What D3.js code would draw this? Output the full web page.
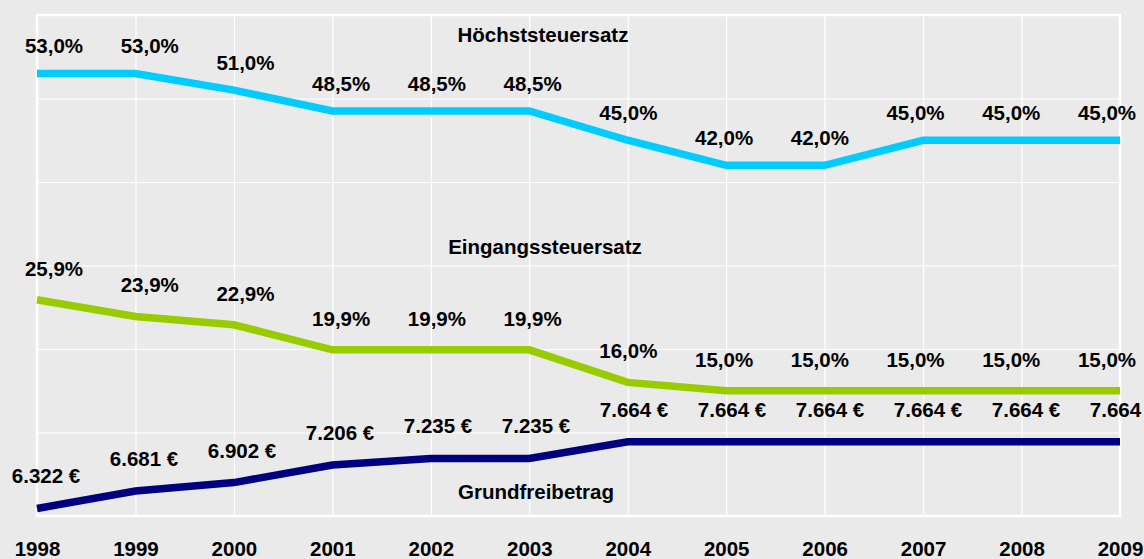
<!DOCTYPE html>
<html>
<head>
<meta charset="utf-8">
<script src="https://cdn.jsdelivr.net/npm/d3@7"></script>
<style>
  body { margin: 0; background: #eaeaea; }
  svg { display: block; font-family: "Liberation Sans", Arial, sans-serif; }
  .lbl { font-size: 20.5px; font-weight: bold; fill: #000; }
</style>
</head>
<body>
<svg width="1144" height="559"></svg>
<script>
// data
var years = ["1998", "1999", "2000", "2001", "2002", "2003", "2004", "2005", "2006", "2007", "2008", "2009"];
var hoechst = [53.0, 53.0, 51.0, 48.5, 48.5, 48.5, 45.0, 42.0, 42.0, 45.0, 45.0, 45.0];
var eingang = [25.9, 23.9, 22.9, 19.9, 19.9, 19.9, 16.0, 15.0, 15.0, 15.0, 15.0, 15.0];
var grundEuro = [6322, 6681, 6902, 7206, 7235, 7235, 7664, 7664, 7664, 7664, 7664, 7664];
// level of the Grundfreibetrag line on the chart's 0-60 axis
var grundLevel = [0.9, 3.0, 4.0, 6.1, 6.9, 6.9, 8.9, 8.9, 8.9, 8.9, 8.9, 8.9];
var seriesNames = ["Höchststeuersatz", "Eingangssteuersatz", "Grundfreibetrag"];

var svg = d3.select("svg");
var pLeft = 37, pRight = 1120, pTop = 15, pBottom = 516;

var x = d3.scalePoint().domain(years).range([pLeft, pRight]);
var y = d3.scaleLinear().domain([0, 60]).range([pBottom, pTop]);
// labels are spread a little differently from the points
var pctLabelX = d3.scalePoint().domain(years).range([54, 1107]);
var euroLabelX = d3.scalePoint().domain(years).range([46, 1124]);

var pctFmt = function(v) { return d3.format(".1f")(v).replace(".", ",") + "%"; };
var euroFmt = function(v) { return d3.format(",")(v).replace(/,/g, ".") + " €"; };

// grid
svg.append("g")
    .attr("transform", "translate(" + pLeft + ",0)")
    .call(d3.axisLeft(y).ticks(6).tickSize(-(pRight - pLeft)).tickFormat(""))
    .call(function(g) {
        g.select(".domain").remove();
        g.selectAll("line").attr("stroke", "#fff").attr("stroke-width", 1.2);
    });
svg.append("g")
    .attr("transform", "translate(0," + pBottom + ")")
    .call(d3.axisBottom(x).tickSize(-(pBottom - pTop)).tickFormat(""))
    .call(function(g) {
        g.select(".domain").remove();
        g.selectAll("line").attr("stroke", "#fff").attr("stroke-width", 1.2);
    });

// plot frame
svg.append("rect")
    .attr("x", pLeft).attr("y", pTop)
    .attr("width", pRight - pLeft).attr("height", pBottom - pTop)
    .attr("fill", "none").attr("stroke", "#fff").attr("stroke-width", 2.5);

// year labels
var xAxis = svg.append("g")
    .attr("transform", "translate(0," + pBottom + ")")
    .call(d3.axisBottom(x).tickSize(0));
xAxis.select(".domain").remove();
xAxis.selectAll("text")
    .attr("class", "lbl")
    .attr("font-size", null).attr("font-family", null)
    .attr("y", 40).attr("dy", 0);

var line = d3.line()
    .x(function(d) { return x(d.year); })
    .y(function(d) { return y(d.v); });

function toPoints(vals) {
    return vals.map(function(v, i) { return { year: years[i], v: v }; });
}

var series = [
    { name: seriesNames[0], pts: toPoints(hoechst), labels: hoechst.map(pctFmt), color: "#00ccff", lx: pctLabelX, dy: -20 },
    { name: seriesNames[1], pts: toPoints(eingang), labels: eingang.map(pctFmt), color: "#99cc00", lx: pctLabelX, dy: -24 },
    { name: seriesNames[2], pts: toPoints(grundLevel), labels: grundEuro.map(euroFmt), color: "#000080", lx: euroLabelX, dy: -25 }
];

series.forEach(function(s) {
    svg.append("path")
        .datum(s.pts)
        .attr("fill", "none")
        .attr("stroke", s.color)
        .attr("stroke-width", 7.5)
        .attr("d", line);

    svg.append("g").selectAll("text")
        .data(s.pts)
        .enter().append("text")
        .attr("class", "lbl")
        .attr("text-anchor", "middle")
        .attr("x", function(d) { return s.lx(d.year); })
        .attr("y", function(d) { return y(d.v) + s.dy; })
        .text(function(d, i) { return s.labels[i]; });
});

// series titles
var titleY = [42, 254, 499];
var titleX = [543, 545, 536];
svg.append("g").selectAll("text")
    .data(seriesNames)
    .enter().append("text")
    .attr("class", "lbl")
    .attr("text-anchor", "middle")
    .attr("x", function(d, i) { return titleX[i]; })
    .attr("y", function(d, i) { return titleY[i]; })
    .text(function(d) { return d; });
</script>
</body>
</html>
